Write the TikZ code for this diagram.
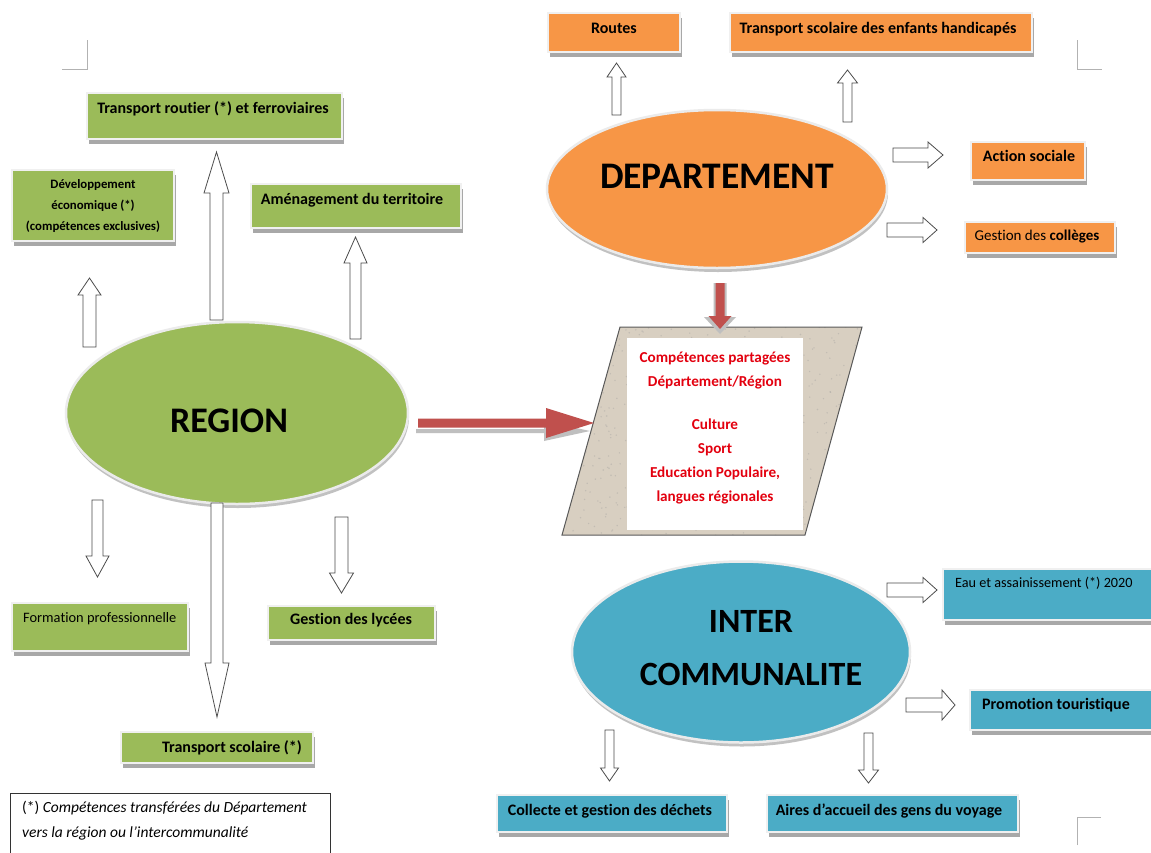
\documentclass[tikz,border=0pt]{standalone}
\usepackage{fontspec}
\setmainfont{Carlito}[Ligatures=NoCommon]
\usetikzlibrary{shapes.geometric,shadows,calc}
\definecolor{gfill}{HTML}{9BBB59}
\definecolor{ofill}{HTML}{F79646}
\definecolor{bfill}{HTML}{4BACC6}
\definecolor{rarrow}{HTML}{C0504D}
\definecolor{rtext}{HTML}{E3000F}
\definecolor{beige}{HTML}{D8CFC1}
\newcommand\bx[6]{\node[#6, minimum width={#4-#2}, minimum height={#5-#3}] (#1) at ({(#2+#4)/2},{(#3+#5)/2}) {};}
\newcommand\blk[6][hollow]{%
  \coordinate (hb) at ($(#3)!#6!(#2)$);
  \draw[#1] ($(#2)!#4!90:(#3)$) -- ($(hb)!#4!90:(#3)$) -- ($(hb)!#5!90:(#3)$) -- (#3)
    -- ($(hb)!#5!-90:(#3)$) -- ($(hb)!#4!-90:(#3)$) -- ($(#2)!#4!-90:(#3)$) -- cycle;}
\tikzset{
  boxbase/.style={rectangle, inner sep=0, draw=white!94!black, line width=2.5pt,
    drop shadow={shadow xshift=2pt, shadow yshift=-5pt, fill=black!45, opacity=.75}},
  gbox/.style={boxbase, fill=gfill},
  obox/.style={boxbase, fill=ofill},
  bbox/.style={boxbase, fill=bfill},
  lbl/.style={font=\bfseries\fontsize{16}{18}\selectfont, text height=.7em, text depth=.2em, inner sep=0},
  ell/.style={ellipse, inner sep=0, draw=white!92!black, line width=2.5pt,
    drop shadow={shadow xshift=1pt, shadow yshift=-4pt, fill=black!40, opacity=.6}},
  big/.style={font=\bfseries\fontsize{36}{40}\selectfont, inner sep=0},
  hollow/.style={draw=black!70, fill=white, line width=0.8pt, line join=miter},
  redarr/.style={fill=rarrow, draw=none},
  redsh/.style={fill=black!25, draw=none},
  corner/.style={draw=black!30, line width=0.8pt},
}
\begin{document}
\begin{tikzpicture}[x=1pt,y=-1pt]
\useasboundingbox (0,0) rectangle (1151,852);
\fill[white] (0,0) rectangle (1151,852);

% corner marks
\draw[corner] (62,69) -- (87,69) -- (87,40);
\draw[corner] (1077,40) -- (1077,69) -- (1102,69);
\draw[corner] (1077,845) -- (1077,817) -- (1101,817);

% ===== REGION side boxes =====
\bx{bTR}{87}{93}{342}{139}{gbox}
\bx{bDEV}{12}{170}{174}{241}{gbox}
\bx{bAME}{251}{184}{461}{228}{gbox}
\bx{bFOR}{12}{603}{188}{651}{gbox}
\bx{bLYC}{268}{606}{435}{640}{gbox}
\bx{bTS}{121}{732}{313}{763}{gbox}
% ===== DEPARTEMENT boxes =====
\bx{bROU}{548}{13}{680}{52}{obox}
\bx{bHAN}{730}{13}{1032}{52}{obox}
\bx{bACT}{971}{142}{1085}{180}{obox}
\bx{bCOL}{965}{222}{1115}{253}{obox}
% ===== INTERCOMMUNALITE boxes =====
\bx{bEAU}{943}{569}{1153}{620}{bbox}
\bx{bPRO}{970}{690}{1153}{730}{bbox}
\bx{bCOLL}{497}{795}{727}{832}{bbox}
\bx{bAIR}{767}{795}{1018}{832}{bbox}

% labels
\node[lbl] (tTR) at (213,111) {Transport routier (*) et ferroviaires};
\node[font=\bfseries\fontsize{12.8}{21}\selectfont, align=center, inner sep=0] (tDEV) at (93,206) {Développement\\économique (*)\\(compétences exclusives)};
\node[lbl] (tAME) at (352,202) {Aménagement du territoire};
\node[lbl, font=\fontsize{14.4}{16}\selectfont, anchor=west] (tFOR) at (23,620) {Formation professionnelle};
\node[lbl] (tLYC) at (351,622) {Gestion des lycées};
\node[lbl] (tTS) at (232,750) {Transport scolaire (*)};
\node[lbl] (tROU) at (614,31) {Routes};
\node[lbl] (tHAN) at (878,31) {Transport scolaire des enfants handicapés};
\node[lbl] (tACT) at (1029,159) {Action sociale};
\node[lbl, font=\fontsize{15}{17}\selectfont] (tCOL) at (1037,238) {Gestion des \bfseries collèges};
\node[lbl, font=\fontsize{14.2}{16}\selectfont, anchor=west] (tEAU) at (955,585) {Eau et assainissement (*) 2020};
\node[lbl] (tPRO) at (1056,707) {Promotion touristique};
\node[lbl] (tCOLL) at (610,813) {Collecte et gestion des déchets};
\node[lbl] (tAIR) at (889,813) {Aires d’accueil des gens du voyage};

% ===== ellipses =====
\node[ell, fill=gfill, minimum width=342, minimum height=182] (REG) at (237,413) {};
\node[ell, fill=ofill, minimum width=340, minimum height=158] (DEP) at (717,189) {};
\node[ell, fill=bfill, minimum width=338, minimum height=181] (INT) at (741,652) {};
\node[big] (tREG) at (229,421) {REGION};
\node[big, font=\bfseries\fontsize{37.5}{40}\selectfont] (tDEP) at (717,176) {DEPARTEMENT};
\node[big, font=\bfseries\fontsize{34}{53}\selectfont, align=center] (tINT) at (751,648) {INTER\\COMMUNALITE};

% ===== shared competences parallelogram =====
\coordinate (p1) at (620,327);
\coordinate (p2) at (862,327);
\coordinate (p3) at (805,535);
\coordinate (p4) at (562,535);
\fill[beige] (p1) -- (p2) -- (p3) -- (p4) -- cycle;
\begin{scope}
  \clip (p1) -- (p2) -- (p3) -- (p4) -- cycle;
  \pgfmathsetseed{7}
  \foreach \i in {1,...,600} {\fill[black!40, opacity=.35] ({558+308*rnd},{325+212*rnd}) circle (0.8);}
\end{scope}
\draw[black!65, line width=1pt] (p1) -- (p2) -- (p3) -- (p4) -- cycle;
\node[fill=white, inner sep=0, minimum width=176, minimum height=192] (SH) at (715,434) {};
\node[font=\bfseries\fontsize{15.2}{24}\selectfont, text=rtext, align=center, inner sep=0] (tSH) at (715,428)
  {Compétences partagées\\Département/Région\\[19pt]Culture\\Sport\\Education Populaire,\\langues régionales};

% ===== red arrows =====
\coordinate (rhs) at (416,431);
\coordinate (rhe) at (590,431);
\blk[redsh]{rhs}{rhe}{2pt}{10pt}{46pt}
\coordinate (rh1) at (418,423);
\coordinate (rh2) at (594,423);
\blk[redarr]{rh1}{rh2}{4.5pt}{15pt}{48pt}
\coordinate (rv1) at (720,283);
\coordinate (rv2) at (720,334);
\blk[redsh]{rv1}{rv2}{6.5pt}{16pt}{17pt}
\coordinate (rv3) at (720,283);
\coordinate (rv4) at (720,329);
\blk[redarr]{rv3}{rv4}{4.5pt}{11.5pt}{13pt}

% ===== hollow block arrows =====
\coordinate (a1s) at (216.5,320); \coordinate (a1e) at (216.5,152);
\blk{a1s}{a1e}{6.5pt}{12.5pt}{41pt}
\coordinate (a2s) at (355.5,339); \coordinate (a2e) at (355.5,237);
\blk{a2s}{a2e}{5.5pt}{11.5pt}{26pt}
\coordinate (a3s) at (89.5,347); \coordinate (a3e) at (89.5,278);
\blk{a3s}{a3e}{6.5pt}{11.5pt}{17pt}
\coordinate (a4s) at (97.5,500); \coordinate (a4e) at (97.5,577);
\blk{a4s}{a4e}{5.5pt}{11.5pt}{21pt}
\coordinate (a5s) at (217,503); \coordinate (a5e) at (217,717);
\blk{a5s}{a5e}{6pt}{12pt}{54pt}
\coordinate (a6s) at (341.5,517); \coordinate (a6e) at (341.5,593);
\blk{a6s}{a6e}{6.5pt}{12pt}{20pt}
\coordinate (a7s) at (616.5,115); \coordinate (a7e) at (616.5,63);
\blk{a7s}{a7e}{4.5pt}{9.5pt}{14pt}
\coordinate (a8s) at (847.5,122); \coordinate (a8e) at (847.5,70);
\blk{a8s}{a8e}{4.5pt}{10pt}{13pt}
\coordinate (a9s) at (893,155); \coordinate (a9e) at (943,155);
\blk{a9s}{a9e}{7pt}{13pt}{15pt}
\coordinate (a10s) at (887,230); \coordinate (a10e) at (937,230);
\blk{a10s}{a10e}{7pt}{12.5pt}{14pt}
\coordinate (a11s) at (887,590); \coordinate (a11e) at (937,590);
\blk{a11s}{a11e}{7pt}{12.5pt}{14pt}
\coordinate (a12s) at (906,705); \coordinate (a12e) at (955,705);
\blk{a12s}{a12e}{7pt}{15pt}{13pt}
\coordinate (a13s) at (609.5,730); \coordinate (a13e) at (609.5,781);
\blk{a13s}{a13e}{4.5pt}{9pt}{13pt}
\coordinate (a14s) at (868.5,733); \coordinate (a14e) at (868.5,783);
\blk{a14s}{a14e}{4.5pt}{10pt}{13pt}

% ===== footnote =====
\draw[black!80, line width=0.8pt] (10,853) -- (10,793) -- (330,793) -- (330,853);
\node[font=\fontsize{15.5}{17}\selectfont, anchor=west, inner sep=0, text height=.7em, text depth=.2em] (fn1) at (22,810) {(*) \textit{Compétences transférées du Département}};
\node[font=\fontsize{15.5}{17}\selectfont\itshape, anchor=west, inner sep=0, text height=.7em, text depth=.2em] (fn2) at (22,835) {vers la région ou l’intercommunalité};
\end{tikzpicture}
\end{document}
